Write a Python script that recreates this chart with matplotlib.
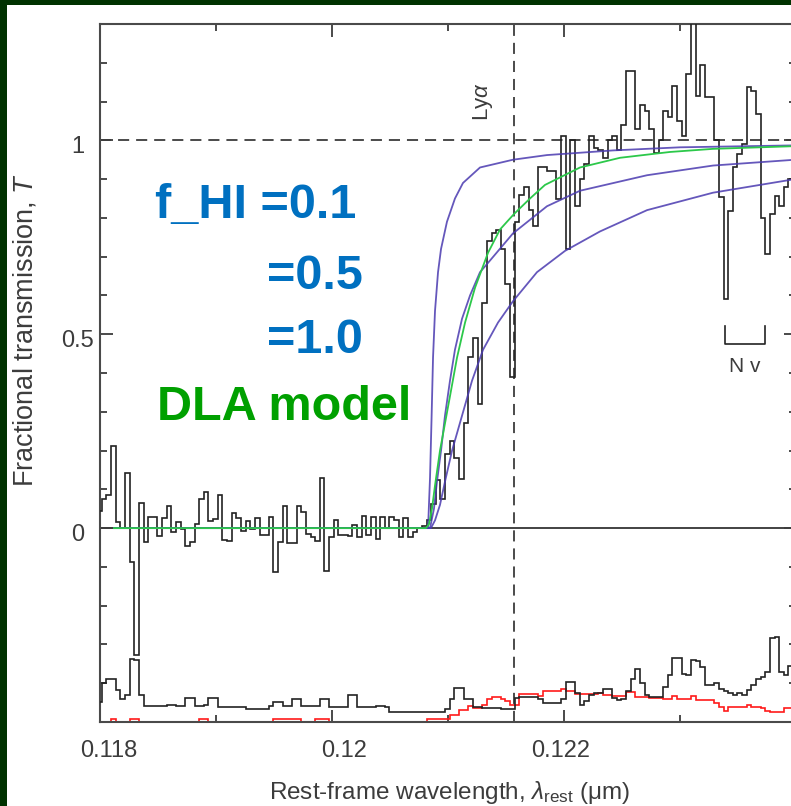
import numpy as np
import matplotlib
matplotlib.use('Agg')
import matplotlib.pyplot as plt
import matplotlib.transforms as mtransforms
from matplotlib.patches import Rectangle
from matplotlib.ticker import FixedLocator, MultipleLocator

plt.rcParams['font.family'] = ['Liberation Sans', 'DejaVu Sans']
plt.rcParams['mathtext.fontset'] = 'custom'
plt.rcParams['mathtext.rm'] = 'Liberation Sans'
plt.rcParams['mathtext.it'] = 'Liberation Sans:italic'
plt.rcParams['lines.scale_dashes'] = False

# binned spectrum: start wavelength and bin width in micron
wave_start = 0.117975
wave_step = 4.0e-5

flux = [
    0.045, 0.075, 0.085, 0.213, 0.016, 0.0, 0.143, -0.087, -0.328, 0.066,
    -0.035, 0.029, 0.029, -0.021, 0.025, 0.057, -0.011, 0.015, -0.003, -0.047,
    -0.037, 0.010, 0.075, 0.092, 0.019, 0.023, 0.085, -0.030, -0.033, 0.038,
    0.027, -0.007, 0.019, -0.003, 0.025, -0.018, -0.018, 0.029, -0.114, -0.037,
    0.057, -0.039, -0.039, 0.057, 0.042, -0.014, -0.024, -0.033, 0.128, -0.110,
    -0.024, 0.021, -0.018, -0.018, -0.021, 0.009, -0.024, 0.032, -0.018, 0.029,
    -0.027, 0.029, -0.001, 0.029, 0.021, -0.024, 0.025, -0.024, -0.009, 0.0,
    0.006, 0.020, 0.062, 0.124, 0.075, 0.190, 0.225, 0.180, 0.126, 0.270,
    0.440, 0.490, 0.320, 0.580, 0.740, 0.760, 0.770, 0.720, 0.630, 0.390,
    0.790, 0.860, 0.880, 0.820, 0.780, 0.930, 0.930, 0.920, 0.920, 0.850,
    1.010, 0.720, 1.000, 0.830, 0.900, 0.940, 1.010, 0.980, 0.975, 0.955,
    1.000, 1.010, 0.975, 1.040, 1.180, 1.180, 1.030, 1.090, 1.075, 1.030,
    0.967, 1.000, 1.075, 1.060, 1.140, 1.050, 1.010, 1.170, 1.450, 1.115,
    1.195, 1.113, 1.113, 1.000, 0.853, 0.590, 0.818, 0.930, 0.965, 0.990,
    1.137, 1.127, 1.067, 0.800, 0.707, 0.810, 0.857, 0.830, 0.880, 0.900,
]

# error spectrum, shown offset to the bottom of the panel
noise = [
    -0.448, -0.400, -0.390, -0.390, -0.418, -0.440, -0.430, -0.337, -0.340, -0.430,
    -0.458, -0.458, -0.458, -0.458, -0.458, -0.455, -0.455, -0.458, -0.458, -0.437,
    -0.437, -0.458, -0.458, -0.455, -0.437, -0.437, -0.461, -0.461, -0.461, -0.461,
    -0.461, -0.461, -0.466, -0.466, -0.466, -0.466, -0.466, -0.458, -0.448, -0.448,
    -0.458, -0.458, -0.440, -0.440, -0.458, -0.458, -0.458, -0.458, -0.440, -0.440,
    -0.461, -0.461, -0.461, -0.461, -0.430, -0.430, -0.461, -0.461, -0.461, -0.461,
    -0.458, -0.458, -0.461, -0.474, -0.474, -0.474, -0.474, -0.474, -0.474, -0.474,
    -0.474, -0.474, -0.474, -0.474, -0.474, -0.466, -0.441, -0.412, -0.412, -0.441,
    -0.441, -0.461, -0.461, -0.465, -0.465, -0.465, -0.465, -0.467, -0.467, -0.467,
    -0.437, -0.435, -0.435, -0.435, -0.435, -0.440, -0.450, -0.452, -0.452, -0.452,
    -0.440, -0.398, -0.398, -0.425, -0.455, -0.445, -0.430, -0.425, -0.425, -0.414,
    -0.414, -0.437, -0.444, -0.440, -0.420, -0.390, -0.364, -0.400, -0.430, -0.435,
    -0.435, -0.435, -0.410, -0.380, -0.335, -0.335, -0.375, -0.380, -0.339, -0.343,
    -0.357, -0.405, -0.405, -0.400, -0.414, -0.420, -0.425, -0.430, -0.425, -0.430,
    -0.418, -0.405, -0.390, -0.385, -0.370, -0.283, -0.281, -0.370, -0.380, -0.355,
]

# sky level, same offset
sky = [
    -0.510, -0.510, -0.510, -0.493, -0.510, -0.510, -0.510, -0.493, -0.493, -0.510,
    -0.510, -0.510, -0.510, -0.510, -0.510, -0.510, -0.510, -0.510, -0.510, -0.510,
    -0.510, -0.510, -0.493, -0.493, -0.510, -0.510, -0.510, -0.510, -0.510, -0.510,
    -0.510, -0.510, -0.510, -0.510, -0.510, -0.510, -0.510, -0.510, -0.493, -0.493,
    -0.493, -0.493, -0.493, -0.493, -0.510, -0.510, -0.510, -0.493, -0.493, -0.493,
    -0.510, -0.510, -0.510, -0.510, -0.510, -0.510, -0.510, -0.510, -0.510, -0.510,
    -0.510, -0.510, -0.510, -0.510, -0.510, -0.510, -0.510, -0.510, -0.510, -0.510,
    -0.510, -0.491, -0.491, -0.491, -0.491, -0.491, -0.481, -0.481, -0.470, -0.470,
    -0.458, -0.465, -0.465, -0.455, -0.440, -0.435, -0.435, -0.440, -0.447, -0.455,
    -0.455, -0.427, -0.427, -0.427, -0.427, -0.432, -0.421, -0.421, -0.421, -0.421,
    -0.414, -0.420, -0.420, -0.427, -0.427, -0.427, -0.427, -0.427, -0.425, -0.431,
    -0.431, -0.432, -0.432, -0.432, -0.422, -0.422, -0.436, -0.436, -0.436, -0.438,
    -0.438, -0.438, -0.440, -0.440, -0.432, -0.440, -0.440, -0.440, -0.432, -0.444,
    -0.444, -0.444, -0.444, -0.452, -0.461, -0.472, -0.461, -0.461, -0.461, -0.461,
    -0.457, -0.461, -0.461, -0.465, -0.472, -0.474, -0.474, -0.474, -0.465, -0.465,
]

# IGM damping-wing models for neutral fractions 0.1, 0.5, 1.0
igm01_wave = [0.11812, 0.120828, 0.120845, 0.120858, 0.120871, 0.120888, 0.120914,
              0.120940, 0.120991, 0.121060, 0.121129, 0.121276, 0.121560, 0.121853,
              0.122422, 0.123000, 0.123991]
igm01_T = [0, 0, 0.13, 0.28, 0.44, 0.56, 0.66, 0.72, 0.79, 0.85, 0.89, 0.93, 0.95,
           0.962, 0.974, 0.982, 0.987]

igm05_wave = [0.11812, 0.120845, 0.120879, 0.120905, 0.120940, 0.120974, 0.121017,
              0.121060, 0.121121, 0.121190, 0.121276, 0.121362, 0.121560, 0.121853,
              0.122138, 0.122716, 0.123285, 0.123991]
igm05_T = [0, 0, 0.05, 0.12, 0.20, 0.29, 0.38, 0.46, 0.54, 0.60, 0.66, 0.69, 0.76,
           0.83, 0.87, 0.91, 0.935, 0.95]

igm10_wave = [0.11812, 0.120853, 0.120888, 0.120931, 0.120974, 0.121035, 0.121121,
              0.121207, 0.121302, 0.121431, 0.121560, 0.121767, 0.122009, 0.122310,
              0.122716, 0.123285, 0.123991]
igm10_T = [0, 0, 0.02, 0.06, 0.12, 0.20, 0.29, 0.38, 0.46, 0.53, 0.585, 0.66, 0.715,
           0.765, 0.82, 0.865, 0.90]

# damped Lyman-alpha absorber model
dla_wave = [0.11812, 0.120810, 0.120836, 0.120862, 0.120888, 0.120931, 0.120974,
            0.121017, 0.121078, 0.121147, 0.121233, 0.121345, 0.121448, 0.121569,
            0.121707, 0.121836, 0.122138, 0.122483, 0.122914, 0.123285, 0.123991]
dla_T = [0, 0, 0.01, 0.05, 0.11, 0.20, 0.27, 0.34, 0.44, 0.53, 0.62, 0.71, 0.77,
         0.81, 0.85, 0.885, 0.93, 0.955, 0.97, 0.978, 0.985]

lya_wave = 0.1215668
nv_lo, nv_hi = 0.123388, 0.123733

edges = wave_start + wave_step * np.arange(len(flux) + 1)

W, H = 791, 806
fig = plt.figure(figsize=(W / 100, H / 100), dpi=100, facecolor='#003200')
fig.patches.append(Rectangle((7 / W, 0), 1, 1 - 5 / H, transform=fig.transFigure,
                             facecolor='white', edgecolor='none', zorder=-10))

ax = fig.add_axes([100 / W, 1 - 722 / H, 696 / W, 698 / H])
ax.set_facecolor('white')

gray = '#3c3c3c'
purple = '#4a3ab0'

ax.axhline(1.0, color=gray, lw=1.3, dashes=(8, 5), zorder=1)
ax.axvline(lya_wave, color=gray, lw=1.3, dashes=(8, 5), zorder=1)
ax.axhline(0.0, color='#222222', lw=1.2, zorder=1)

ax.stairs(flux, edges, color='#222222', lw=1.2, zorder=3)
ax.stairs(noise, edges, color='#222222', lw=1.2, zorder=3)
ax.stairs(sky, edges, color='#ff1a1a', lw=1.2, zorder=2)

for wv, tr in [(igm01_wave, igm01_T), (igm05_wave, igm05_T), (igm10_wave, igm10_T)]:
    ax.plot(wv, tr, color=purple, lw=1.3, alpha=0.85, zorder=4)
ax.plot(dla_wave, dla_T, color='#2cc84a', lw=1.3, zorder=5)

# N V marker
ax.plot([nv_lo, nv_lo, nv_hi, nv_hi], [0.521, 0.476, 0.476, 0.521],
        color='#222222', lw=1.2, zorder=3)
ax.text((nv_lo + nv_hi) / 2, 0.418, 'N v', ha='center', va='center',
        fontsize=15, color=gray)
ax.text(0.121302, 1.10, r'Ly$\alpha$', rotation=90, ha='center', va='center',
        fontsize=16, color=gray)

ax.set_xlim(0.118, 0.124)
ax.set_ylim(-0.5, 1.3)

ax.xaxis.set_major_locator(FixedLocator([0.118, 0.120, 0.122]))
ax.xaxis.set_minor_locator(FixedLocator([0.119, 0.121, 0.123]))
ax.set_xticklabels(['0.118', '0.12', '0.122'])
ax.yaxis.set_major_locator(FixedLocator([0, 0.5, 1]))
ax.yaxis.set_minor_locator(MultipleLocator(0.1))
ax.set_yticklabels(['0', '0.5', '1'])

ax.tick_params(which='both', direction='in', top=True, right=True,
               color=gray, width=1.3, labelsize=17, labelcolor=gray)
ax.tick_params(which='major', length=9)
ax.tick_params(which='minor', length=5)
ax.tick_params(axis='x', pad=13)
ax.tick_params(axis='y', pad=16)
for lbl in ax.get_yticklabels():
    lbl.set_horizontalalignment('center')
for spine in ax.spines.values():
    spine.set_color('#4a4a4a')
    spine.set_linewidth(1.5)

shift_x = [9, 12, -3]
for lbl, dx in zip(ax.get_xticklabels(), shift_x):
    lbl.set_transform(lbl.get_transform() +
                      mtransforms.ScaledTranslation(dx / 100, 0, fig.dpi_scale_trans))
for lbl in ax.get_yticklabels():
    lbl.set_transform(lbl.get_transform() +
                      mtransforms.ScaledTranslation(0, -4 / 100, fig.dpi_scale_trans))

ax.set_xlabel(r'Rest-frame wavelength, $\lambda_{\mathrm{rest}}$ (μm)',
              fontsize=17.5, color=gray, va='center')
ax.xaxis.set_label_coords(0.503, -0.1017)
ax.set_ylabel(r'Fractional transmission, $T$', fontsize=19.5, color=gray, va='center')
ax.yaxis.set_label_coords(-0.108, 0.5616)

blue = '#0070c0'
green = '#00a000'
fig.text(155 / W, 1 - 218 / H, 'f_HI =0.1', color=blue, fontsize=35,
         fontweight='bold', va='baseline')
fig.text(267 / W, 1 - 289 / H, '=0.5', color=blue, fontsize=35,
         fontweight='bold', va='baseline')
fig.text(267 / W, 1 - 353 / H, '=1.0', color=blue, fontsize=35,
         fontweight='bold', va='baseline')
fig.text(157 / W, 1 - 420 / H, 'DLA model', color=green, fontsize=35,
         fontweight='bold', va='baseline')

fig.savefig('out.png', dpi=100, facecolor=fig.get_facecolor())
